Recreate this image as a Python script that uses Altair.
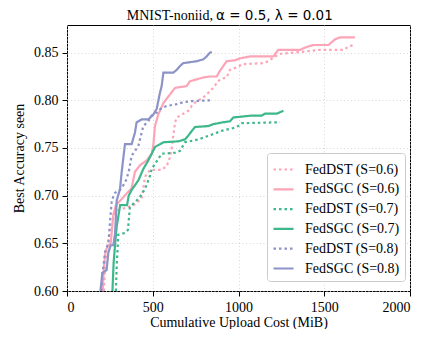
import altair as alt
import pandas as pd

series_names = ["FedDST (S=0.6)", "FedSGC (S=0.6)", "FedDST (S=0.7)",
                "FedSGC (S=0.7)", "FedDST (S=0.8)", "FedSGC (S=0.8)"]
colors = ["#fda4b7", "#fda4b7", "#3cb88b", "#3cb88b", "#8b93c7", "#8b93c7"]
dashes = [[2.5, 3], [1, 0], [2.5, 3], [1, 0], [2.5, 3], [1, 0]]

dst06_x = [215, 222, 232, 250, 275, 300, 357, 387, 435, 455, 484, 552, 581, 600, 610, 620,
           630, 640, 669, 707, 727, 756, 795, 824, 853, 873, 892, 931, 950, 980, 1028, 1145,
           1174, 1213, 1252, 1378, 1475, 1611, 1650, 1673]
dst06_y = [0.600, 0.625, 0.645, 0.660, 0.680, 0.685, 0.688, 0.690, 0.697, 0.720, 0.727, 0.727,
           0.731, 0.740, 0.749, 0.763, 0.777, 0.782, 0.785, 0.789, 0.794, 0.799, 0.803, 0.808,
           0.813, 0.818, 0.822, 0.824, 0.832, 0.834, 0.838, 0.839, 0.841, 0.846, 0.849, 0.851,
           0.853, 0.853, 0.857, 0.858]

sgc06_x = [208, 215, 225, 241, 255, 270, 285, 357, 377, 396, 426, 465, 494, 503, 513, 532,
           562, 591, 630, 698, 717, 756, 795, 834, 873, 892, 931, 980, 1009, 1067, 1203, 1232,
           1359, 1398, 1436, 1524, 1563, 1592, 1679]
sgc06_y = [0.600, 0.625, 0.642, 0.648, 0.650, 0.680, 0.690, 0.704, 0.708, 0.725, 0.732, 0.737,
           0.744, 0.752, 0.773, 0.785, 0.797, 0.804, 0.813, 0.815, 0.820, 0.822, 0.824, 0.825,
           0.825, 0.831, 0.841, 0.842, 0.844, 0.846, 0.846, 0.853, 0.853, 0.856, 0.858, 0.858,
           0.864, 0.866, 0.866]

dst07_x = [285, 290, 299, 340, 355, 367, 406, 426, 455, 484, 494, 523, 552, 630, 659, 688,
           766, 844, 902, 970, 999, 1019, 1242]
dst07_y = [0.600, 0.627, 0.659, 0.661, 0.664, 0.688, 0.695, 0.699, 0.707, 0.721, 0.728, 0.736,
           0.744, 0.745, 0.747, 0.756, 0.759, 0.764, 0.768, 0.771, 0.773, 0.776, 0.777]

sgc07_x = [265, 272, 280, 290, 310, 350, 360, 377, 416, 445, 474, 494, 513, 562, 649, 688,
           707, 746, 824, 853, 911, 950, 970, 1077, 1135, 1155, 1223, 1262]
sgc07_y = [0.600, 0.630, 0.648, 0.668, 0.690, 0.690, 0.700, 0.706, 0.716, 0.728, 0.737, 0.744,
           0.751, 0.756, 0.757, 0.759, 0.763, 0.772, 0.773, 0.775, 0.777, 0.778, 0.782, 0.784,
           0.784, 0.786, 0.786, 0.789]

dst08_x = [200, 208, 222, 241, 251, 261, 280, 309, 340, 360, 377, 416, 435, 445, 474, 494,
           523, 552, 581, 640, 678, 717, 834]
dst08_y = [0.600, 0.620, 0.641, 0.650, 0.673, 0.695, 0.703, 0.706, 0.714, 0.725, 0.742, 0.752,
           0.766, 0.773, 0.778, 0.784, 0.787, 0.792, 0.794, 0.796, 0.798, 0.799, 0.800]

sgc08_x = [195, 206, 231, 241, 255, 270, 280, 290, 309, 319, 338, 377, 396, 406, 435, 474,
           503, 523, 542, 552, 562, 620, 640, 659, 678, 756, 795, 814, 834, 844]
sgc08_y = [0.600, 0.619, 0.622, 0.640, 0.648, 0.648, 0.660, 0.695, 0.707, 0.725, 0.754, 0.754,
           0.766, 0.777, 0.780, 0.780, 0.785, 0.791, 0.808, 0.815, 0.829, 0.829, 0.832, 0.836,
           0.839, 0.841, 0.843, 0.846, 0.850, 0.851]

x_ticks = [0, 500, 1000, 1500, 2000]
y_ticks = [0.60, 0.65, 0.70, 0.75, 0.80, 0.85]

all_x = [dst06_x, sgc06_x, dst07_x, sgc07_x, dst08_x, sgc08_x]
all_y = [dst06_y, sgc06_y, dst07_y, sgc07_y, dst08_y, sgc08_y]

rows = []
for name, xs, ys in zip(series_names, all_x, all_y):
    for xv, yv in zip(xs, ys):
        rows.append({"series": name, "cost": xv, "acc": yv})
df = pd.DataFrame(rows)

serif = "Liberation Serif"

lines = alt.Chart(df).mark_line(clip=True, strokeWidth=2.2).encode(
    x=alt.X("cost:Q", scale=alt.Scale(domain=[0, 2000], nice=False),
            axis=alt.Axis(values=x_ticks, title="Cumulative Upload Cost (MiB)", format="d")),
    y=alt.Y("acc:Q", scale=alt.Scale(domain=[0.6, 0.879], nice=False, zero=False),
            axis=alt.Axis(values=y_ticks, title="Best Accuracy seen", format=".2f")),
    color=alt.Color("series:N", scale=alt.Scale(domain=series_names, range=colors),
                    title=None),
    strokeDash=alt.StrokeDash("series:N", scale=alt.Scale(domain=series_names, range=dashes),
                              title=None),
    detail="series:N",
)

t1 = alt.Chart(pd.DataFrame({"t": ["MNIST-noniid,"]})).mark_text(
    font=serif, fontSize=14, align="right", baseline="alphabetic", color="black"
).encode(text="t:N", x=alt.value(146), y=alt.value(-5))
t2 = alt.Chart(pd.DataFrame({"t": ["\u03b1 = 0.5, \u03bb = 0.01"]})).mark_text(
    font="DejaVu Sans", fontSize=13.5, align="left", baseline="alphabetic", color="black"
).encode(text="t:N", x=alt.value(149), y=alt.value(-5))

chart = alt.layer(lines, t1, t2).properties(
    width=343, height=266,
    autosize=alt.AutoSizeParams(type="none"),
    padding={"left": 59, "top": 17, "right": 6, "bottom": 38},
).configure_view(
    stroke="black", strokeWidth=1
).configure_axis(
    labelFont=serif, labelFontSize=14, labelColor="black",
    titleFont=serif, titleFontSize=14, titleFontWeight="normal", titleColor="black",
    tickColor="black", tickSize=5, tickWidth=1, domain=False,
    grid=True, gridColor="#cfcfcf", gridWidth=0.8, gridDash=[1, 2.5],
    labelPadding=4,
).configure_axisY(
    titlePadding=7
).configure_axisX(
    titlePadding=1
).configure_legend(
    orient="none", legendX=200, legendY=128,
    labelFont=serif, labelFontSize=14, labelColor="black",
    symbolType="stroke", symbolSize=400, symbolStrokeWidth=2.2,
    labelOffset=10, rowPadding=0.8, padding=5,
    strokeColor="#cccccc", fillColor="rgba(255,255,255,0.85)", cornerRadius=3,
)

chart.save("out.html", embed_options={"renderer": "svg", "actions": False})
